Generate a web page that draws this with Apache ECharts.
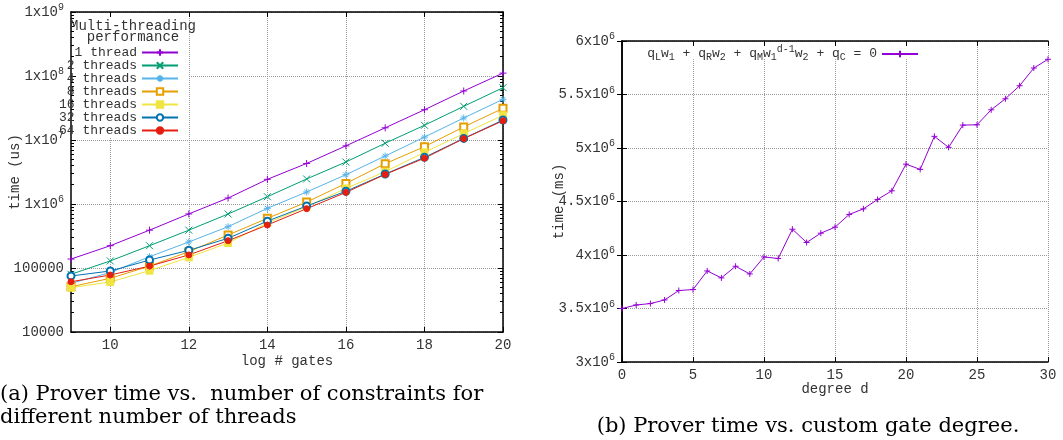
<!DOCTYPE html>
<html>
<head>
<meta charset="utf-8">
<script src="https://cdn.jsdelivr.net/npm/echarts@6/dist/echarts.min.js"></script>
<style>
  html, body { margin: 0; padding: 0; background: #fff; }
  #chart { width: 1063px; height: 440px; }
</style>
</head>
<body>
<div id="chart"></div>
<script>
// (a) prover time vs log # gates, one series per thread count
const logGates = [9, 10, 11, 12, 13, 14, 15, 16, 17, 18, 19, 20]
const thread1 = [138000, 223000, 390000, 700000, 1240000, 2430000, 4300000, 8100000, 15500000, 29700000, 58300000, 111000000]
const thread2 = [79700, 129000, 223000, 390000, 698000, 1300000, 2460000, 4530000, 8900000, 17000000, 33600000, 65700000]
const thread4 = [57600, 85000, 150000, 255000, 442000, 856000, 1540000, 2870000, 5620000, 11100000, 22100000, 43200000]
const thread8 = [51000, 69000, 107000, 180000, 328000, 597000, 1070000, 2100000, 4260000, 7870000, 16000000, 31200000]
const thread16 = [49300, 60400, 91000, 147000, 246000, 505000, 910000, 1750000, 3200000, 6400000, 12600000, 24300000]
const thread32 = [75000, 89800, 133000, 189000, 291000, 540000, 930000, 1580000, 2940000, 5360000, 10600000, 20500000]
const thread64 = [61000, 77700, 107000, 160000, 267000, 470000, 845000, 1520000, 2900000, 5200000, 10500000, 20000000]
const threadNames = ['1 thread', '2 threads', '4 threads', '8 threads', '16 threads', '32 threads', '64 threads']
const gateTicks = [10, 12, 14, 16, 18, 20]

// (b) prover time vs custom gate degree
const degree = [0, 1, 2, 3, 4, 5, 6, 7, 8, 9, 10, 11, 12, 13, 14, 15, 16, 17, 18, 19, 20, 21, 22, 23, 24, 25, 26, 27, 28, 29, 30]
const degreeTime = [3500000, 3533000, 3546000, 3580000, 3668000, 3677000, 3851000, 3786000, 3895000, 3823000, 3982000, 3967000, 4241000, 4117000, 4204000, 4260000, 4379000, 4431000, 4519000, 4600000, 4849000, 4800000, 5109000, 5006000, 5214000, 5217000, 5357000, 5460000, 5582000, 5747000, 5829000]

const mono = '"Liberation Mono", "DejaVu Sans Mono", monospace'
const serif = '"DejaVu Serif", "Liberation Serif", serif'
const txt = '#333'
const gridLine = { show: true, lineStyle: { color: '#9a9a9a', type: 'dotted', width: 1 } }
const border = { show: true, lineStyle: { color: '#000', width: 1.5 } }

const minorLog = []
for (let e = 4; e < 9; e++) {
  for (let m = 2; m <= 9; m++) minorLog.push(m * Math.pow(10, e))
}

const plusPath = 'path://M0,5L10,5M5,0L5,10'
const crossPath = 'path://M0,0L10,10M0,10L10,0'
const starPath = 'path://M0,5L10,5M5,0L5,10M1.5,1.5L8.5,8.5M1.5,8.5L8.5,1.5'

const threadColors = ['#9400d3', '#009e73', '#56b4e9', '#e69f00', '#f0e442', '#0072b2', '#e51e10']
const threadSymbols = [plusPath, crossPath, starPath, 'emptyRect', 'rect', 'emptyCircle', 'circle']
const threadSizes = [7, 7, 7, 7, 7, 7, 6]
const threadData = [thread1, thread2, thread4, thread8, thread16, thread32, thread64]

const supRich = {
  sup: { fontSize: 10, fontFamily: mono, color: txt, padding: [0, 0, 9, 0] }
}

function logLabel(v) {
  const e = Math.round(Math.log10(v))
  return e >= 6 ? '1x10{sup|' + e + '}' : String(Math.round(v))
}
function millionLabel(v) {
  return (v / 1e6) + 'x10{sup|6}'
}

// tick-only axes drawn above the white key boxes
function tickAxis(base, extra) {
  return Object.assign({
    axisLabel: { show: false },
    splitLine: { show: false },
    axisLine: { show: false },
    axisTick: { show: true, inside: true, length: 5, lineStyle: { color: '#000', width: 1 } },
    z: 3
  }, base, extra)
}

const xAxis = [
  { gridIndex: 0, type: 'value', position: 'bottom', min: 9, max: 20,
    name: 'log # gates', nameLocation: 'middle', nameGap: 22, nameMoveOverlap: false,
    nameTextStyle: { fontFamily: mono, fontSize: 14, color: txt },
    axisLine: { show: false },
    axisTick: { show: false, customValues: gateTicks },
    axisLabel: { customValues: gateTicks, fontFamily: mono, fontSize: 14, color: txt, margin: 6 },
    splitLine: gridLine },
  tickAxis({ gridIndex: 0, type: 'value', position: 'bottom', min: 9, max: 20 }, { axisLine: border, axisTick: { show: true, inside: true, length: 5, customValues: gateTicks, lineStyle: { color: '#000' } } }),
  tickAxis({ gridIndex: 0, type: 'value', position: 'top', min: 9, max: 20 }, { axisLine: border, axisTick: { show: true, inside: true, length: 5, customValues: gateTicks, lineStyle: { color: '#000' } } }),
  { gridIndex: 1, type: 'value', position: 'bottom', min: 0, max: 30, interval: 5,
    name: 'degree d', nameLocation: 'middle', nameGap: 20, nameMoveOverlap: false,
    nameTextStyle: { fontFamily: mono, fontSize: 14, color: txt },
    axisLine: { show: false }, axisTick: { show: false },
    axisLabel: { fontFamily: mono, fontSize: 14, color: txt, margin: 6 },
    splitLine: gridLine },
  tickAxis({ gridIndex: 1, type: 'value', position: 'bottom', min: 0, max: 30, interval: 5 }, { axisLine: border }),
  tickAxis({ gridIndex: 1, type: 'value', position: 'top', min: 0, max: 30, interval: 5 }, { axisLine: border })
]

const logBase = { gridIndex: 0, type: 'log', logBase: 10, min: 1e4, max: 1e9 }
const yAxis = [
  Object.assign({}, logBase, {
    position: 'left',
    name: 'time (us)', nameLocation: 'middle', nameGap: 49, nameMoveOverlap: false,
    nameTextStyle: { fontFamily: mono, fontSize: 14, color: txt },
    axisLine: { show: false }, axisTick: { show: false },
    axisLabel: { fontFamily: mono, fontSize: 14, color: txt, margin: 7, formatter: logLabel, rich: supRich },
    splitLine: gridLine
  }),
  tickAxis(logBase, { position: 'left', axisLine: border }),
  tickAxis(logBase, { position: 'left', axisTick: { show: true, inside: true, length: 3, customValues: minorLog, lineStyle: { color: '#000' } } }),
  tickAxis(logBase, { position: 'right', axisLine: border }),
  tickAxis(logBase, { position: 'right', axisTick: { show: true, inside: true, length: 3, customValues: minorLog, lineStyle: { color: '#000' } } }),
  { gridIndex: 1, type: 'value', position: 'left', min: 3e6, max: 6e6, interval: 5e5,
    name: 'time (ms)', nameLocation: 'middle', nameGap: 56, nameMoveOverlap: false,
    nameTextStyle: { fontFamily: mono, fontSize: 14, color: txt },
    axisLine: { show: false }, axisTick: { show: false },
    axisLabel: { fontFamily: mono, fontSize: 14, color: txt, margin: 7, formatter: millionLabel, rich: supRich },
    splitLine: gridLine },
  tickAxis({ gridIndex: 1, type: 'value', position: 'left', min: 3e6, max: 6e6, interval: 5e5 }, { axisLine: border }),
  tickAxis({ gridIndex: 1, type: 'value', position: 'right', min: 3e6, max: 6e6, interval: 5e5 }, { axisLine: border })
]

const series = threadData.map((vals, i) => ({
  name: threadNames[i],
  type: 'line',
  xAxisIndex: 0,
  yAxisIndex: 0,
  data: logGates.map((g, j) => [g, vals[j]]),
  symbol: threadSymbols[i],
  symbolSize: threadSizes[i],
  showAllSymbol: true,
  lineStyle: { color: threadColors[i], width: 1 },
  itemStyle: { color: threadColors[i], borderColor: threadColors[i], borderWidth: 1 },
  emphasis: { disabled: true },
  animation: false
}))

series.push({
  name: 'degree',
  type: 'line',
  xAxisIndex: 3,
  yAxisIndex: 5,
  data: degree.map((d, j) => [d, degreeTime[j]]),
  symbol: plusPath,
  symbolSize: 6,
  lineStyle: { color: '#9400d3', width: 1 },
  itemStyle: { color: '#9400d3', borderColor: '#9400d3', borderWidth: 1 },
  emphasis: { disabled: true },
  animation: false
})

const chart = echarts.init(document.getElementById('chart'))
chart.setOption({
  backgroundColor: '#fff',
  animation: false,
  textStyle: { fontFamily: mono },
  grid: [
    { left: 71, top: 12, width: 432, height: 320, containLabel: false, outerBoundsMode: 'none' },
    { left: 622, top: 41, width: 426, height: 321, containLabel: false, outerBoundsMode: 'none' }
  ],
  xAxis: xAxis,
  yAxis: yAxis,
  legend: [
    {
      data: threadNames,
      orient: 'vertical',
      align: 'right',
      right: 884,
      top: 46,
      padding: 0,
      itemGap: 0,
      itemWidth: 36,
      itemHeight: 8,
      selectedMode: false,
      textStyle: { fontFamily: mono, fontSize: 13, color: txt }
    },
    {
      data: ['degree'],
      align: 'right',
      right: 144,
      top: 44,
      padding: 0,
      itemWidth: 36,
      itemHeight: 8,
      selectedMode: false,
      formatter: () => 'q{s|L}w{s|1} + q{s|R}w{s|2} + q{s|M}w{s|1}{p|d-1}w{s|2} + q{s|C} = 0',
      textStyle: {
        fontFamily: mono, fontSize: 13, color: txt,
        rich: {
          s: { fontFamily: mono, fontSize: 10, color: txt, padding: [6, 0, 0, 0] },
          p: { fontFamily: mono, fontSize: 10, color: txt, padding: [0, 0, 10, 0] }
        }
      }
    }
  ],
  graphic: [
    // white key boxes hiding the grid lines behind the keys
    { type: 'rect', z: 1, silent: true, shape: { x: 72, y: 13, width: 117, height: 124 }, style: { fill: '#fff' } },
    { type: 'rect', z: 1, silent: true, shape: { x: 623, y: 42, width: 302, height: 16 }, style: { fill: '#fff' } },
    { type: 'text', z: 10, silent: true, x: 133, y: 32,
      style: { text: 'Multi-threading\nperformance', align: 'center', verticalAlign: 'middle', font: '14px ' + mono, lineHeight: 11, fill: txt } },
    { type: 'text', z: 10, silent: true, x: 0, y: 395,
      style: { text: '(a) Prover time vs.  number of constraints for', align: 'left', verticalAlign: 'middle', font: '21px ' + serif, fill: '#000' } },
    { type: 'text', z: 10, silent: true, x: 0, y: 418,
      style: { text: 'different number of threads', align: 'left', verticalAlign: 'middle', font: '21px ' + serif, fill: '#000' } },
    { type: 'text', z: 10, silent: true, x: 808, y: 427,
      style: { text: '(b) Prover time vs. custom gate degree.', align: 'center', verticalAlign: 'middle', font: '21px ' + serif, fill: '#000' } }
  ],
  series: series
})
</script>
</body>
</html>
